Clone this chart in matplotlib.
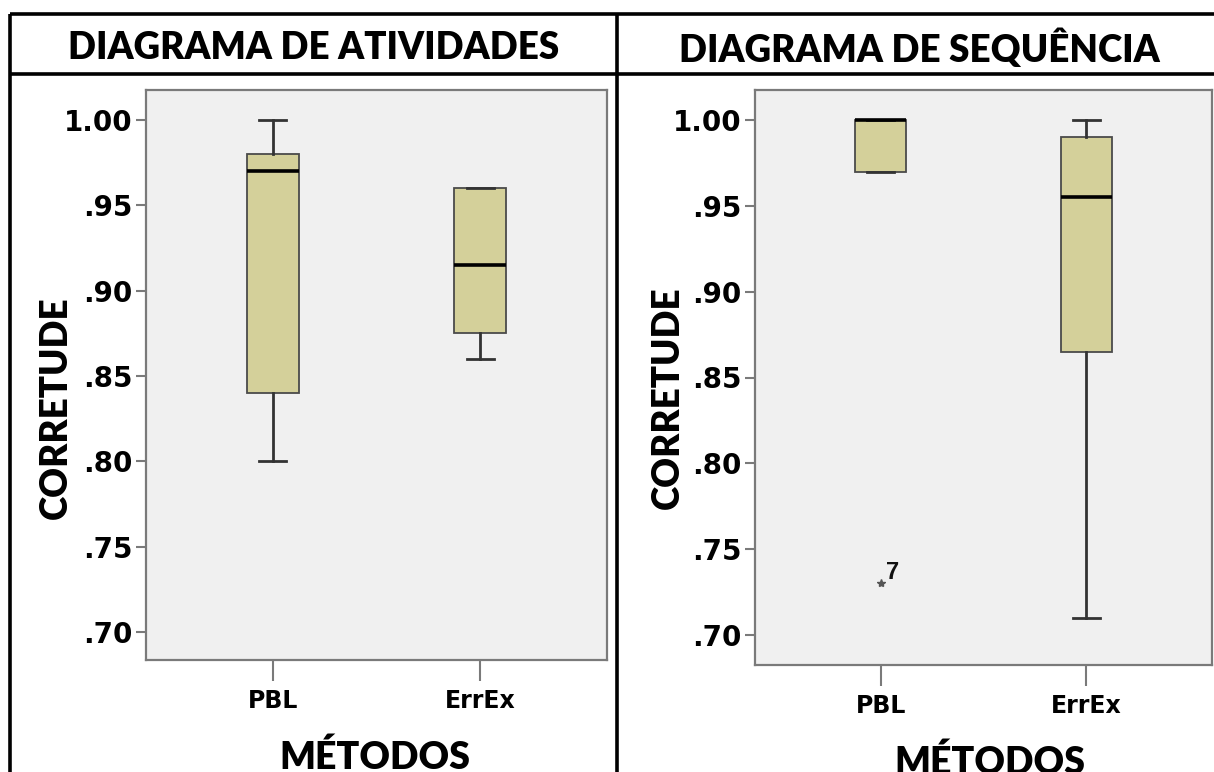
import matplotlib
matplotlib.use("Agg")
import matplotlib.pyplot as plt
from matplotlib.lines import Line2D

# ---- data -----------------------------------------------------------------
methods = ["PBL", "ErrEx"]
panel_titles = ["DIAGRAMA DE ATIVIDADES", "DIAGRAMA DE SEQUÊNCIA"]

# Activity diagram: five-number summaries per method
act_whislo = [0.80, 0.86]
act_q1 = [0.84, 0.875]
act_med = [0.97, 0.915]
act_q3 = [0.98, 0.96]
act_whishi = [1.00, 0.96]
act_outliers = [[], []]
act_outlier_ids = [[], []]

# Sequence diagram: five-number summaries per method
seq_whislo = [0.97, 0.71]
seq_q1 = [0.97, 0.865]
seq_med = [1.00, 0.955]
seq_q3 = [1.00, 0.99]
seq_whishi = [1.00, 1.00]
seq_outliers = [[0.73], []]
seq_outlier_ids = [["7"], []]

yticks = [0.70, 0.75, 0.80, 0.85, 0.90, 0.95, 1.00]
ytick_labels = [".70", ".75", ".80", ".85", ".90", ".95", "1.00"]

# ---- layout helpers (pixel coordinates on a 1214x772 canvas) ---------------
W, H = 1214, 772
fig = plt.figure(figsize=(W / 100, H / 100), dpi=100)
fig.patch.set_facecolor("white")


def rect(x0, y0, x1, y1):
    return [x0 / W, 1 - y1 / H, (x1 - x0) / W, (y1 - y0) / H]


def fx(x):
    return x / W


def fy(y):
    return 1 - y / H


TITLE_FONT = "Lato"
TICK_FONT = "DejaVu Sans"
BOX_FACE = "#D4D09A"
AX_BG = "#F0F0F0"
SPINE = "#7A7A7A"

# table frame
frame_kw = dict(color="black", lw=2.6, solid_capstyle="butt")
fig.add_artist(Line2D([fx(10), fx(W)], [fy(14), fy(14)], **frame_kw))
fig.add_artist(Line2D([fx(10), fx(W)], [fy(74), fy(74)], **frame_kw))
fig.add_artist(Line2D([fx(10), fx(10)], [fy(14), fy(H)], **frame_kw))
fig.add_artist(Line2D([fx(617), fx(617)], [fy(14), fy(H)], **frame_kw))

panels = [
    dict(rect=rect(146, 90, 607, 660), ylim=(0.6836, 1.0176), title_x=314,
         ylabel_x=56, ylabel_y=408, xlabel_x=375, xlabel_y=757,
         stats=(act_whislo, act_q1, act_med, act_q3, act_whishi),
         fliers=act_outliers, ids=act_outlier_ids),
    dict(rect=rect(755, 90, 1212, 665), ylim=(0.6825, 1.0175), title_x=919,
         ylabel_x=668, ylabel_y=398, xlabel_x=990, xlabel_y=762,
         stats=(seq_whislo, seq_q1, seq_med, seq_q3, seq_whishi),
         fliers=seq_outliers, ids=seq_outlier_ids),
]

for p, title in zip(panels, panel_titles):
    ax = fig.add_axes(p["rect"])
    ax.set_facecolor(AX_BG)
    wlo, q1, med, q3, whi = p["stats"]
    bxp_stats = []
    for i, name in enumerate(methods):
        bxp_stats.append(dict(label=name, whislo=wlo[i], q1=q1[i], med=med[i],
                              q3=q3[i], whishi=whi[i], fliers=p["fliers"][i]))
    ax.bxp(bxp_stats, positions=[1, 2], widths=0.25, patch_artist=True,
           showfliers=True,
           boxprops=dict(facecolor=BOX_FACE, edgecolor="#4A4A4A", lw=1.3),
           medianprops=dict(color="black", lw=2.6, solid_capstyle="butt"),
           whiskerprops=dict(color="#333333", lw=2.0),
           capprops=dict(color="#333333", lw=2.0),
           capwidths=0.13,
           flierprops=dict(marker="*", markersize=6, markerfacecolor="#555555",
                           markeredgecolor="#555555"))
    for i in range(len(methods)):
        for v, lab in zip(p["fliers"][i], p["ids"][i]):
            ax.annotate(lab, (i + 1, v), xytext=(4, 3), textcoords="offset points",
                        fontsize=17, fontweight="bold", family="Liberation Sans",
                        color="#111111")

    ax.set_xlim(0.39, 2.61)
    ax.set_ylim(*p["ylim"])
    ax.set_yticks(yticks)
    ax.set_yticklabels(ytick_labels, family=TICK_FONT, fontweight="bold",
                       fontsize=20)
    ax.set_xticks([1, 2])
    ax.set_xticklabels(methods, family=TICK_FONT, fontweight="bold", fontsize=17)
    ax.tick_params(axis="y", direction="out", length=7.5, width=1.5,
                   color=SPINE, pad=2)
    ax.tick_params(axis="x", direction="out", length=15, width=1.5,
                   color=SPINE, pad=6)
    for s in ax.spines.values():
        s.set_color(SPINE)
        s.set_linewidth(1.6)

    fig.text(fx(p["title_x"]), fy(48), title, ha="center", va="center",
             family=TITLE_FONT, fontweight="heavy", fontsize=26.5)
    fig.text(fx(p["ylabel_x"]), fy(p["ylabel_y"]), "CORRETUDE", rotation=90,
             ha="center", va="center", family=TITLE_FONT, fontweight="heavy",
             fontsize=26.5)
    fig.text(fx(p["xlabel_x"]), fy(p["xlabel_y"]), "MÉTODOS", ha="center",
             va="center", family=TITLE_FONT, fontweight="heavy", fontsize=27)

fig.savefig("out.png", dpi=100)
